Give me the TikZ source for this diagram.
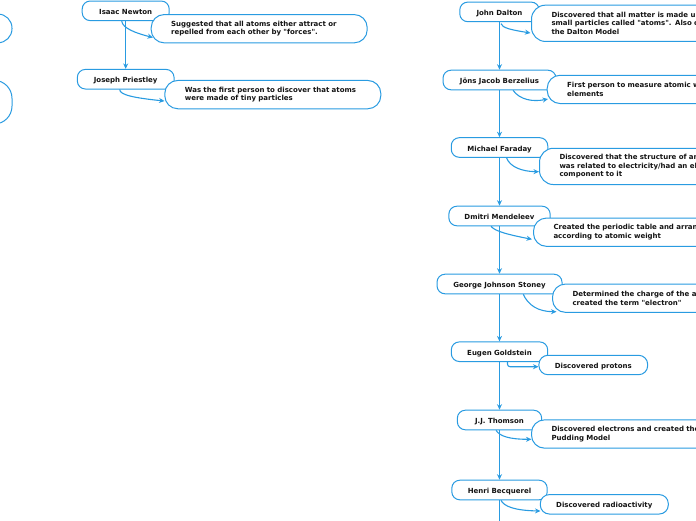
\documentclass[tikz,border=0pt]{standalone}
\usepackage{fontspec}
\setmainfont{DejaVu Sans}[Ligatures=TeXOff]
\usetikzlibrary{arrows.meta,calc}
\definecolor{lineblue}{RGB}{41,155,225}
\definecolor{txt}{RGB}{20,20,20}
\begin{document}
\begin{tikzpicture}[x=1pt,y=-1pt,
  namebox/.style={draw=lineblue, line width=1pt, fill=white, rounded corners=8pt,
    minimum height=19.6pt, inner sep=0pt, text height=7.4pt, text depth=0pt,
    font=\bfseries\fontsize{7}{8.6}\selectfont, text=txt},
  descbox/.style={draw=lineblue, line width=1pt, fill=white, rounded corners=13pt,
    inner xsep=20pt, inner ysep=0pt, anchor=west, align=left, minimum height=28.3pt,
    font=\bfseries\fontsize{7}{8.6}\selectfont, text=txt},
  shortbox/.style={draw=lineblue, line width=1pt, fill=white, rounded corners=9pt,
    inner sep=0pt, minimum height=19.4pt, text height=7pt, text depth=0pt,
    font=\bfseries\fontsize{7}{8.6}\selectfont, text=txt},
  ghostbox/.style={draw=lineblue, line width=1pt, fill=white, inner sep=0pt},
  conn/.style={draw=lineblue, line width=1.1pt, -{Stealth[length=5.5pt,width=5pt]}},
  plainline/.style={draw=lineblue, line width=1.1pt},
]
\useasboundingbox (0,0) rectangle (696,520);

% partial boxes at the left edge
\node[ghostbox, rounded corners=14pt, minimum width=120pt, minimum height=28.7pt] (leftA) at (-48,28.4) {};
\node[ghostbox, rounded corners=18pt, minimum width=120pt, minimum height=43.7pt] (leftB) at (-48,102.2) {};

% ---------- left tree ----------
\node[namebox, minimum width=87pt] (newton) at (125.7,10.8) {Isaac Newton};
\node[namebox, minimum width=96.7pt] (priestley) at (125.7,79.2) {Joseph Priestley};

\draw[conn] (newton.south) -- (priestley.north);
\draw[conn] ($(newton.south)+(-4,0)$) .. controls (122.5,28) and (135,33) .. (153,37.5);
\draw[conn] ($(priestley.south)+(-6,0)$) .. controls (119.5,95) and (135,98) .. (164.5,101);

\node[descbox, minimum width=216pt, text width=176pt] (newtond) at (150.7,28.7)
  {Suggested that all atoms either attract or\\repelled from each other by "forces".};
\node[descbox, minimum width=216pt, text width=176pt] (priestleyd) at (164.3,94.6)
  {Was the first person to discover that atoms\\were made of tiny particles};

% ---------- right tree ----------
\node[namebox, minimum width=79.5pt] (dalton) at (499.5,11.9) {John Dalton};
\node[namebox, minimum width=113pt] (berzelius) at (499.5,80) {Jöns Jacob Berzelius};
\node[namebox, minimum width=96.5pt] (faraday) at (499.5,147.5) {Michael Faraday};
\node[namebox, minimum width=101.3pt] (mendeleev) at (499.5,216) {Dmitri Mendeleev};
\node[namebox, minimum width=125pt] (stoney) at (499.5,284) {George Johnson Stoney};
\node[namebox, minimum width=96.4pt] (goldstein) at (499.5,351.7) {Eugen Goldstein};
\node[namebox, minimum width=84.3pt] (thomson) at (499.5,420) {J.J. Thomson};
\node[namebox, minimum width=95.4pt] (becquerel) at (499.5,490) {Henri Becquerel};
\coordinate (bottomend) at (499.5,525);

\draw[conn] (dalton.south) -- (berzelius.north);
\draw[conn] (berzelius.south) -- (faraday.north);
\draw[conn] (faraday.south) -- (mendeleev.north);
\draw[conn] (mendeleev.south) -- (stoney.north);
\draw[conn] (stoney.south) -- (goldstein.north);
\draw[conn] (goldstein.south) -- (thomson.north);
\draw[conn] (thomson.south) -- (becquerel.north);
\draw[plainline] (becquerel.south) -- (bottomend);

\draw[conn] ($(dalton.south)+(1.5,1.5)$) .. controls (502,28) and (512,30) .. (530.5,33);
\draw[conn] ($(berzelius.south)+(13.5,0)$) .. controls (520,100) and (533,102) .. (548,99);
\draw[conn] ($(faraday.south)+(7,0)$) .. controls (510,167) and (522,171.5) .. (539,171.7);
\draw[conn] ($(mendeleev.south)+(-8.5,0)$) .. controls (495,231.5) and (510,235) .. (532,239.3);
\draw[conn] ($(stoney.south)+(23.8,0)$) .. controls (528,305) and (538,311.7) .. (556.5,311.7);
\draw[conn, rounded corners=2.5pt] ($(goldstein.south)+(8,0)$) |- (538.5,366.7);
\draw[conn] ($(thomson.south)+(-3.5,0)$) .. controls (500,436.5) and (510,439.3) .. (531.5,439.3);
\draw[conn] ($(becquerel.south)+(1.5,0)$) .. controls (504,506.5) and (515,510.5) .. (540.5,511);

\node[descbox, rounded corners=14pt, minimum height=36.3pt, minimum width=280pt, text width=240pt] (daltond) at (531,23.3)
  {Discovered that all matter is made up of\\small particles called "atoms". Also created\\the Dalton Model};
\node[descbox, minimum width=280pt, text width=240pt] (berzeliusd) at (546.7,89.4)
  {First person to measure atomic weights of\\elements};
\node[descbox, rounded corners=14pt, minimum height=36.3pt, minimum width=280pt, text width=240pt] (faradayd) at (539,166.4)
  {Discovered that the structure of an atom\\was related to electricity/had an electrical\\component to it};
\node[descbox, minimum width=280pt, text width=240pt] (mendeleevd) at (533,232.2)
  {Created the periodic table and arranged elements\\according to atomic weight};
\node[descbox, minimum width=280pt, text width=240pt] (stoneyd) at (552,298.2)
  {Determined the charge of the atom and\\created the term "electron"};
\node[shortbox, minimum width=108.7pt] (goldsteind) at (593.3,365) {Discovered protons};
\node[descbox, minimum width=280pt, text width=240pt] (thomsond) at (531,434)
  {Discovered electrons and created the Plum\\Pudding Model};
\node[shortbox, minimum width=128pt] (becquereld) at (604.3,504.3) {Discovered radioactivity};
\end{tikzpicture}
\end{document}
